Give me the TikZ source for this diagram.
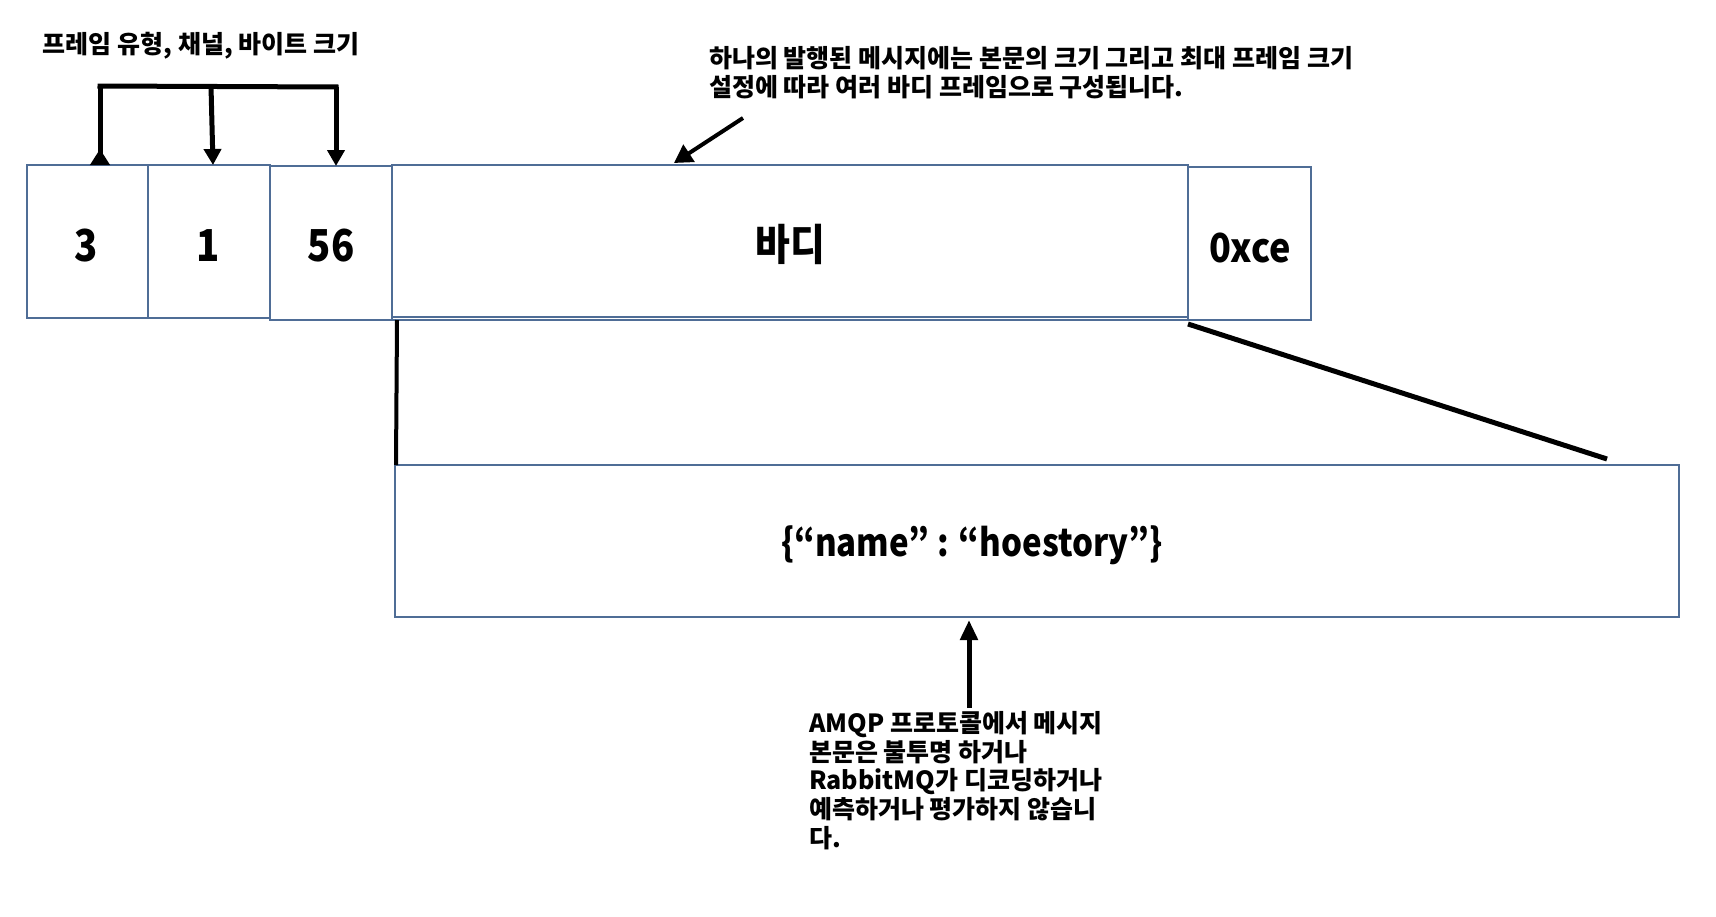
\documentclass[tikz,border=0pt]{standalone}
\usepackage{graphicx}
\usepackage{fontspec}
\setmainfont{Noto Sans CJK KR}
\usetikzlibrary{arrows.meta}
\definecolor{boxblue}{RGB}{79,109,150}
\begin{document}
\begin{tikzpicture}[x=1pt,y=-1pt,
  cell/.style={draw=boxblue, line width=2pt, inner sep=0pt, outer sep=0pt, anchor=north west,
    font=\bfseries\fontsize{44}{46}\selectfont},
  link/.style={line width=5pt},
  arr/.style={line width=5pt, -{Triangle[width=17pt,length=16pt]}},
  lbl/.style={font=\bfseries\fontsize{25}{28.8}\selectfont, align=left, inner sep=0pt}
]
\fill[white] (0,0) rectangle (1716,916);
\useasboundingbox (0,0) rectangle (1716,916);

% frame cells
\node[cell, minimum width=121pt, minimum height=153pt] (c3) at (27,165) {};
\node[cell, minimum width=122pt, minimum height=153pt] (c1) at (148,165) {};
\node[cell, minimum width=122pt, minimum height=154pt] (c56) at (270,166) {};
\node[cell, minimum width=796pt, minimum height=152pt] (body) at (392,165) {};
\node[cell, minimum width=123pt, minimum height=153pt] (oxce) at (1188,167) {};
\draw[boxblue, line width=2pt] (body.south west) ++(0,3) coordinate (bb1) -- (bb1 -| body.south east);

\node[font=\bfseries\fontsize{44}{46}\selectfont, inner sep=0pt] (t3) at (86,246) {\scalebox{0.87}[1]{3}};
\node[font=\bfseries\fontsize{44}{46}\selectfont, inner sep=0pt] (t1) at (208,246) {\scalebox{0.87}[1]{1}};
\node[font=\bfseries\fontsize{44}{46}\selectfont, inner sep=0pt] (t56) at (331,246) {\scalebox{0.87}[1]{56}};
\node[font=\bfseries\fontsize{43}{46}\selectfont, inner sep=0pt] (tbody) at (790,244) {\scalebox{0.88}[1]{바디}};
\node[font=\bfseries\fontsize{40}{42}\selectfont, inner sep=0pt] (toxce) at (1250,248) {\scalebox{0.9}[1]{0xce}};

% JSON box
\node[cell, minimum width=1284pt, minimum height=152pt] (json) at (395,465) {};
\node[font=\bfseries\fontsize{38}{40}\selectfont, inner sep=0pt] (jsontext) at (972,545) {\scalebox{0.87}[1]{\{“name” : “hoestory”\}}};

% labels
\node[lbl, anchor=center] (hdr) at (201,46) {프레임 유형, 채널, 바이트 크기};
\node[lbl, anchor=north west] (ann) at (709,46) {하나의 발행된 메시지에는 본문의 크기 그리고 최대 프레임 크기\\설정에 따라 여러 바디 프레임으로 구성됩니다.};
\node[lbl, anchor=north west] (note) at (809,711) {AMQP 프로토콜에서 메시지\\본문은 불투명 하거나\\RabbitMQ가 디코딩하거나\\예측하거나 평가하지 않습니\\다.};

% header bracket
\coordinate (tl) at (100,86);
\coordinate (tm) at (211,86);
\coordinate (tr) at (336,87);
\draw[link] ([xshift=-2.5pt]tl) -- ([xshift=2.5pt]tr);
\draw[link, -{Triangle[reversed,width=19pt,length=16pt]}] (tl) -- (tl |- c3.north);
\draw[arr] (tm) -- ([xshift=4pt]c1.north);
\draw[arr] (tr) -- (tr |- c56.north);

% annotation arrow to body
\coordinate (annfoot) at (743,118);
\coordinate (bodytop) at (674,163);
\draw[line width=4pt, -{Triangle[width=20pt,length=18pt]}] (annfoot) -- (bodytop);

% zoom connectors
\coordinate (zl1) at (397,320);
\coordinate (zl2) at (396,465);
\draw[line width=4pt] (zl1) -- (zl2);
\coordinate (zr1) at (1188,324);
\coordinate (zr2) at (1607,459);
\draw[line width=5pt] (zr1) -- (zr2);

% note arrow to json
\coordinate (notetop) at (969,708);
\draw[line width=5pt, -{Triangle[width=17pt,length=20pt]}] (notetop) -- ([yshift=-3pt]notetop |- json.south);
\end{tikzpicture}
\end{document}
